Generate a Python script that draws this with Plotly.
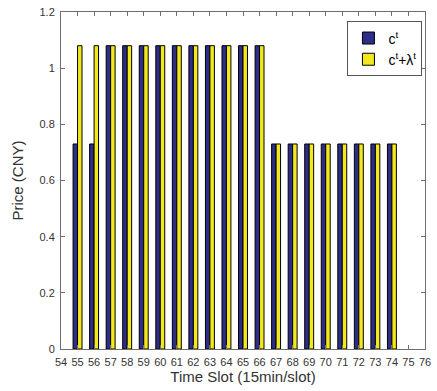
import plotly.graph_objects as go

slots = list(range(55, 75))
c = [0.73, 0.73] + [1.08] * 10 + [0.73] * 8
c_lam = [1.08] * 12 + [0.73] * 8
x_ticks = list(range(54, 77))
y_ticks = [0, 0.2, 0.4, 0.6, 0.8, 1, 1.2]
y_labels = ["0", "0.2", "0.4", "0.6", "0.8", "1", "1.2"]

fig = go.Figure()
fig.add_trace(go.Bar(x=slots, y=c, name="c<sup>t</sup>",
                     marker=dict(color="rgb(46,45,135)", line=dict(color="black", width=1))))
fig.add_trace(go.Bar(x=slots, y=c_lam, name="c<sup>t</sup>+λ<sup>t</sup>",
                     marker=dict(color="rgb(242,232,30)", line=dict(color="black", width=1))))

axis_common = dict(showgrid=False, zeroline=False, showline=True, linecolor="#6f6f6f",
                   linewidth=1, mirror="ticks", ticks="inside", ticklen=4, tickcolor="#6f6f6f",
                   tickfont=dict(family="Liberation Sans, Arial", size=11, color="#333"))
fig.update_layout(
    width=437, height=391,
    margin=dict(l=61, r=6, t=12, b=42),
    paper_bgcolor="white", plot_bgcolor="white",
    barmode="group", bargap=0.46, bargroupgap=0,
    showlegend=True,
    legend=dict(x=0.993, y=0.972, xanchor="right", yanchor="top",
                bgcolor="white", bordercolor="#555", borderwidth=1,
                font=dict(family="Liberation Sans, Arial", size=14, color="black"),
                tracegroupgap=2, itemwidth=30),
    xaxis=dict(range=[54, 76], tickvals=x_ticks, ticktext=[str(v) for v in x_ticks],
               ticklabelstandoff=3, ticklabeloverflow="allow",
               title=dict(text="Time Slot (15min/slot)", standoff=4,
                          font=dict(family="Liberation Sans, Arial", size=15, color="#333")),
               **axis_common),
    yaxis=dict(range=[0, 1.2], tickvals=y_ticks, ticktext=y_labels,
               ticklabelstandoff=3,
               title=dict(text="Price (CNY)", standoff=12,
                          font=dict(family="Liberation Sans, Arial", size=15, color="#333")),
               **axis_common),
)
fig.write_html("out.html")
